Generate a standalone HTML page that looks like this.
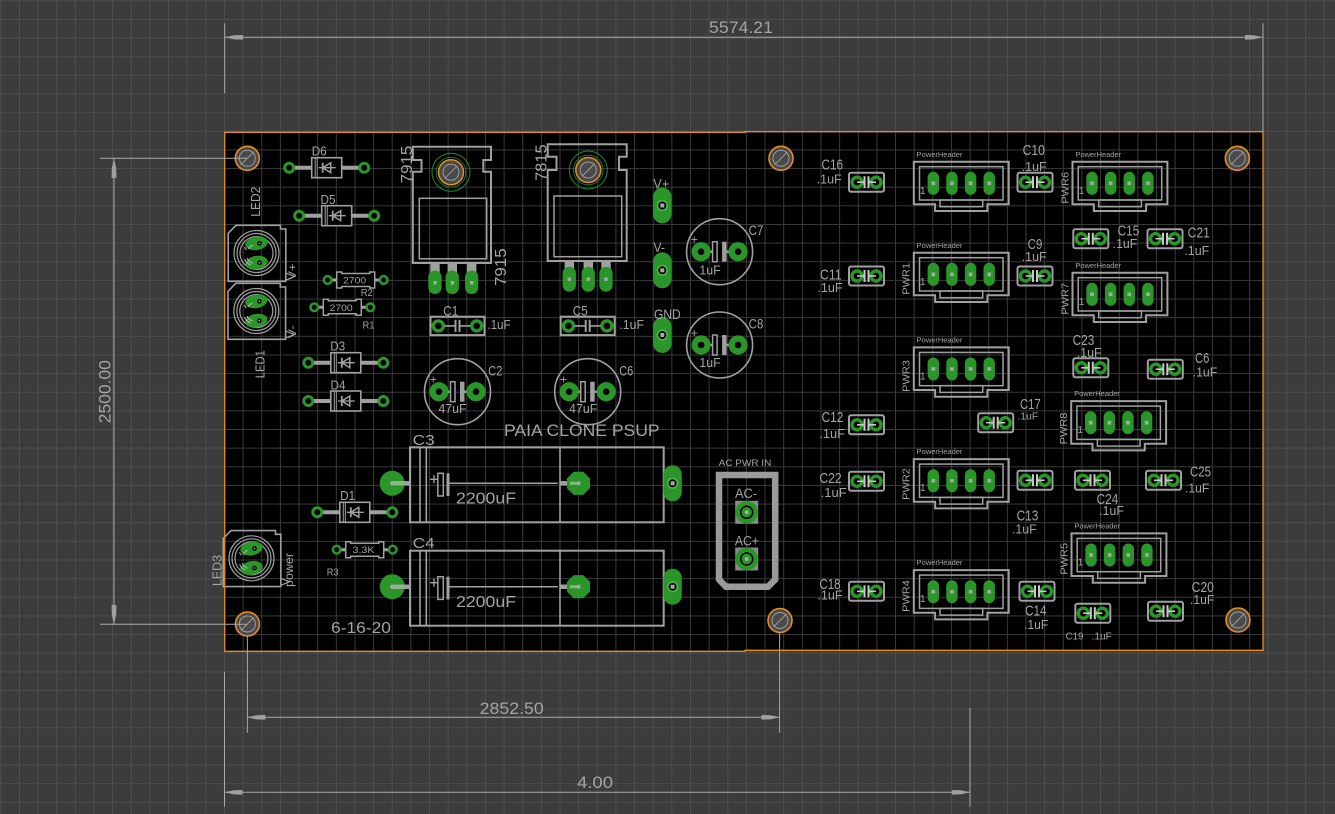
<!DOCTYPE html>
<html><head><meta charset="utf-8">
<style>
html,body{margin:0;padding:0;background:#3c3c3c;overflow:hidden}
svg{display:block}
text{font-family:"Liberation Sans",sans-serif;fill:#a4a4a4}
</style></head>
<body>
<svg width="1335" height="814" viewBox="0 0 1335 814" xmlns="http://www.w3.org/2000/svg">
<defs>
<pattern id="g1" x="0.3" y="0.3" width="18.64" height="18.64" patternUnits="userSpaceOnUse"><path d="M0,0.5H18.64M0.5,0V18.64" stroke="#4d4d4d" stroke-width="1" fill="none"/></pattern>
<pattern id="g2" x="0.3" y="0.3" width="18.64" height="18.64" patternUnits="userSpaceOnUse"><path d="M0,0.5H18.64M0.5,0V18.64" stroke="#3a3a3a" stroke-width="1" fill="none"/></pattern>
<g id="mh"><circle r="12" fill="#4a4a4a" stroke="#e58e1e" stroke-width="1.6"/><circle r="8" fill="none" stroke="#9a9a9a" stroke-width="1"/><line x1="-6.5" y1="6.5" x2="6.5" y2="-6.5" stroke="#9a9a9a" stroke-width="1"/></g>
<g id="rh"><circle r="19" fill="none" stroke="#1e8a3a" stroke-width="1"/><circle r="14.8" fill="none" stroke="#1e8a3a" stroke-width="0.8"/><circle r="12.5" fill="#4a4a4a" stroke="#e58e1e" stroke-width="1.5"/><circle r="8" fill="none" stroke="#9a9a9a" stroke-width="1"/><line x1="-6" y1="6" x2="6" y2="-6" stroke="#9a9a9a" stroke-width="1"/></g>
<g id="dio">
<path d="M-33,0H-15M15,0H33" stroke="#a0a0a0" stroke-width="4"/>
<circle cx="-37.5" r="4.5" fill="#000" stroke="#2a962a" stroke-width="3"/>
<circle cx="37.5" r="4.5" fill="#000" stroke="#2a962a" stroke-width="3"/>
<rect x="-15" y="-10" width="30" height="20" fill="#000" stroke="#a0a0a0" stroke-width="1.6"/>
<path d="M-11.5,-10V10M-9.5,-10V10" stroke="#a0a0a0" stroke-width="1"/>
<path d="M-8,0H9" stroke="#a0a0a0" stroke-width="1.3"/>
<path d="M-4,0L4,-5V5Z" fill="none" stroke="#a0a0a0" stroke-width="1.5"/>
<path d="M-4,-5V5" stroke="#a0a0a0" stroke-width="1.8"/>
</g>
<g id="res">
<path d="M-24,0H-19M19,0H24" stroke="#a0a0a0" stroke-width="3"/>
<circle cx="-28" r="3.8" fill="#000" stroke="#2a962a" stroke-width="2.6"/>
<circle cx="28" r="3.8" fill="#000" stroke="#2a962a" stroke-width="2.6"/>
<path d="M-19,-8H-14V-6.5H14V-8H19V8H14V6.5H-14V8H-19Z" fill="#000" stroke="#a0a0a0" stroke-width="1.5"/>
</g>
<g id="sc">
<rect x="-17.5" y="-9.5" width="35" height="19" rx="2" fill="none" stroke="#a0a0a0" stroke-width="2"/>
<circle cx="-9.5" r="5" fill="#000" stroke="#2a962a" stroke-width="3.4"/>
<circle cx="9.5" r="5" fill="#000" stroke="#2a962a" stroke-width="3.4"/>
<path d="M-9.5,0H-2.5M2.5,0H9.5" stroke="#c8c8c8" stroke-width="1.6"/>
<path d="M-2,-6V6M2,-6V6" stroke="#c8c8c8" stroke-width="2"/>
</g>
<g id="c1">
<rect x="-27" y="-9.2" width="54" height="18.4" fill="none" stroke="#a0a0a0" stroke-width="2"/>
<circle cx="-19.2" r="5" fill="#000" stroke="#2a962a" stroke-width="3.4"/>
<circle cx="19.2" r="5" fill="#000" stroke="#2a962a" stroke-width="3.4"/>
<path d="M-13,0H-2.5M2.5,0H13" stroke="#a0a0a0" stroke-width="1.6"/>
<path d="M-2,-6V6M2,-6V6" stroke="#a0a0a0" stroke-width="2"/>
</g>
<g id="ec">
<circle r="33" fill="none" stroke="#a0a0a0" stroke-width="1.6"/>
<path d="M-18.5,0H-7M7,0H18.5" stroke="#a0a0a0" stroke-width="2.5"/>
<circle cx="-18.5" r="9.6" fill="#2a962a"/><circle cx="-18.5" r="3.3" fill="#000"/>
<circle cx="18.5" r="9.6" fill="#2a962a"/><circle cx="18.5" r="3.3" fill="#000"/>
<rect x="-7" y="-10" width="4.5" height="20" fill="#000" stroke="#a0a0a0" stroke-width="1.5"/>
<rect x="2.5" y="-10" width="4.5" height="20" fill="#a0a0a0"/>
</g>
<g id="ob"><rect x="-9.2" y="-18" width="18.4" height="36" rx="9.2" fill="#2a962a"/><circle r="5.5" fill="#52b552"/><circle r="4" fill="#000"/><rect x="-2" y="-2" width="4" height="4" fill="#a8a8a8"/></g>
<g id="pin"><rect x="-5.7" y="-11.5" width="11.4" height="23" rx="5.7" fill="#2a962a"/><rect x="-1.8" y="-1.8" width="3.6" height="3.6" fill="#a8a8a8"/></g>
<g id="hd">
<path d="M-19.5,-21.6H75.4V21H54.1V27.7H1.8V21H-19.5Z" fill="none" stroke="#a0a0a0" stroke-width="2"/>
<rect x="-13.8" y="-16.6" width="83.5" height="33.3" fill="none" stroke="#a0a0a0" stroke-width="1.5"/>
<rect x="6.7" y="16.7" width="42.7" height="6.7" fill="none" stroke="#a0a0a0" stroke-width="1.5"/>
<use href="#pin" x="0"/><use href="#pin" x="18.64"/><use href="#pin" x="37.28"/><use href="#pin" x="55.92"/>
</g>
<g id="led">
<path d="M-28.3,-19.7L-20.5,-27.7H24V-24H29.3V28.3H-28.3Z" fill="none" stroke="#a0a0a0" stroke-width="1.6"/>
<path d="M29.3,20L38,23.5L29.3,27" fill="none" stroke="#a0a0a0" stroke-width="1.2"/>
<circle r="22.5" fill="none" stroke="#a0a0a0" stroke-width="1.2"/>
<circle r="19.5" fill="none" stroke="#a0a0a0" stroke-width="1.2"/>
<circle r="16.5" fill="none" stroke="#a0a0a0" stroke-width="1.2"/>
<ellipse cx="0" cy="-9.7" rx="11.3" ry="6.8" fill="#2a962a" transform="rotate(-10 0 -9.7)"/>
<ellipse cx="0" cy="9.7" rx="11.3" ry="6.8" fill="#2a962a" transform="rotate(-10 0 9.7)"/>
<path d="M-12,6A13,13 0 0 0 -6,12M-9.5,5A10,10 0 0 0 -4,10M-10,-3A13,13 0 0 1 -12,-6M-4,-8A8,8 0 0 0 -8,-4" fill="none" stroke="#b8b8b8" stroke-width="1"/>
<circle cx="3" cy="-9.7" r="2.3" fill="#000"/><circle cx="3" cy="9.7" r="2.3" fill="#000"/>
<circle cx="3" cy="-9.7" r="0.9" fill="#aaa"/><circle cx="3" cy="9.7" r="0.9" fill="#aaa"/>
</g>
<g id="bc">
<rect x="410" y="447.3" width="253.7" height="75" fill="none" stroke="#a0a0a0" stroke-width="2"/>
<path d="M420,446.5V523M426.3,446.5V523M560,447.3V522.3" stroke="#a0a0a0" stroke-width="1.6"/>
<circle cx="392.2" cy="483.3" r="12.5" fill="#2a962a"/>
<path d="M392.2,483.3H410M560,483.3H578.5" stroke="#a0a0a0" stroke-width="4.5"/>
<polygon points="590.05,478.5 583.3,471.75 573.7,471.75 566.95,478.5 566.95,488.1 573.7,494.85 583.3,494.85 590.05,488.1" fill="#2a962a"/>
<path d="M392.2,483.3H404M570,483.3H578.5" stroke="#7fc07f" stroke-width="3"/>
<circle cx="392.2" cy="483.3" r="2" fill="#aaa"/><circle cx="578.5" cy="483.3" r="2" fill="#aaa"/>
<use href="#ob" x="672.6" y="483.3"/>
<path d="M430,479.3h8M434,475.3v8" stroke="#a0a0a0" stroke-width="1.4"/>
<rect x="437.8" y="473.3" width="5.5" height="22.7" fill="none" stroke="#a0a0a0" stroke-width="1.5"/>
<rect x="446.5" y="473.3" width="3" height="22.7" fill="#a0a0a0"/>
<path d="M449.5,483.3H557.8" stroke="#a0a0a0" stroke-width="1.5"/>
</g>
</defs>

<rect x="0" y="0" width="1335" height="814" fill="#3c3c3c"/>
<rect x="0" y="0" width="1335" height="814" fill="url(#g1)"/>
<path d="M224.7,132.3H745V131.7H1263V650.3H745V651.3H224.7Z" fill="#000"/>
<path d="M224.7,132.3H745V131.7H1263V650.3H745V651.3H224.7Z" fill="url(#g2)"/>

<!-- mounting holes -->
<use href="#mh" x="247.3" y="158.3"/>
<use href="#mh" x="781" y="158.3"/>
<use href="#mh" x="1237.3" y="158.3"/>
<use href="#mh" x="247.4" y="624"/>
<use href="#mh" x="780" y="620.5"/>
<use href="#mh" x="1238" y="620"/>

<!-- diodes -->
<use href="#dio" x="326.7" y="167.7"/>
<use href="#dio" x="336.7" y="215.7"/>
<use href="#dio" x="345.8" y="362.7"/>
<use href="#dio" x="345.8" y="401"/>
<use href="#dio" x="354.8" y="512.3"/>
<text x="319.2" y="155.7" font-size="13" text-anchor="middle" textLength="15" lengthAdjust="spacingAndGlyphs">D6</text>
<text x="328" y="204" font-size="13" text-anchor="middle" textLength="15" lengthAdjust="spacingAndGlyphs">D5</text>
<text x="337.7" y="350.4" font-size="13" text-anchor="middle" textLength="15" lengthAdjust="spacingAndGlyphs">D3</text>
<text x="338" y="389.7" font-size="13" text-anchor="middle" textLength="15" lengthAdjust="spacingAndGlyphs">D4</text>
<text x="347.6" y="500" font-size="13" text-anchor="middle" textLength="15" lengthAdjust="spacingAndGlyphs">D1</text>

<!-- resistors -->
<use href="#res" x="355.7" y="280"/>
<use href="#res" x="342.3" y="307.3"/>
<use href="#res" x="364.7" y="549.7"/>
<text x="354.7" y="283.3" font-size="9" text-anchor="middle" textLength="23" lengthAdjust="spacingAndGlyphs">2700</text>
<text x="341.2" y="310.8" font-size="9" text-anchor="middle" textLength="23" lengthAdjust="spacingAndGlyphs">2700</text>
<text x="363.5" y="553" font-size="9" text-anchor="middle" textLength="22" lengthAdjust="spacingAndGlyphs">3.3K</text>
<text x="366.7" y="296" font-size="10" text-anchor="middle" textLength="12" lengthAdjust="spacingAndGlyphs">R2</text>
<text x="368.5" y="328.7" font-size="10" text-anchor="middle" textLength="12" lengthAdjust="spacingAndGlyphs">R1</text>
<text x="332.6" y="575.7" font-size="10" text-anchor="middle" textLength="11.8" lengthAdjust="spacingAndGlyphs">R3</text>

<!-- LEDs -->
<use href="#led" x="256.5" y="253"/>
<use href="#led" x="256.3" y="311"/>
<use href="#led" x="251.5" y="558.3"/>
<text transform="translate(255,201.7) rotate(-90)" x="0" y="4.75" font-size="13" text-anchor="middle" textLength="30" lengthAdjust="spacingAndGlyphs">LED2</text>
<text transform="translate(259.7,364.2) rotate(-90)" x="0" y="4.75" font-size="13" text-anchor="middle" textLength="28" lengthAdjust="spacingAndGlyphs">LED1</text>
<text transform="translate(216.7,570.5) rotate(-90)" x="0" y="4.75" font-size="13" text-anchor="middle" textLength="31" lengthAdjust="spacingAndGlyphs">LED3</text>
<text transform="translate(291.8,271.7) rotate(-90)" x="0" y="4" font-size="11" text-anchor="middle" textLength="16.7" lengthAdjust="spacingAndGlyphs">V+</text>
<text transform="translate(291.8,331.7) rotate(-90)" x="0" y="4" font-size="11" text-anchor="middle" textLength="13" lengthAdjust="spacingAndGlyphs">V-</text>
<text transform="translate(288.5,570) rotate(-90)" x="0" y="4.4" font-size="12" text-anchor="middle" textLength="34" lengthAdjust="spacingAndGlyphs">power</text>

<!-- regulators -->
<g fill="none" stroke="#a0a0a0">
<path d="M412.8,146.7H491V160H483.3V171.7H491V263H412.8V171.7H421.5V160H412.8Z" stroke-width="2"/>
<rect x="419.3" y="198.3" width="67.4" height="60.5" stroke-width="1.5"/>
<path d="M547.7,144.3H626.7V156.7H619V170H626.7V261H547.7V170H556.5V156.7H547.7Z" stroke-width="2"/>
<rect x="554" y="196" width="67.7" height="60.7" stroke-width="1.5"/>
</g>
<g fill="#a0a0a0">
<rect x="430.3" y="264" width="9.4" height="18"/><rect x="447.6" y="264" width="9.4" height="18"/><rect x="467" y="264" width="9.4" height="18"/>
<rect x="564.6" y="262" width="9.4" height="17"/><rect x="583.6" y="262" width="9.4" height="17"/><rect x="601.3" y="262" width="9.4" height="17"/>
</g>
<g fill="#2a962a">
<rect x="428.3" y="270.5" width="13.3" height="23.5" rx="6.6"/><rect x="445.6" y="270.5" width="13.3" height="23.5" rx="6.6"/><rect x="465" y="270.5" width="13.3" height="23.5" rx="6.6"/>
<rect x="562.6" y="266.7" width="13.3" height="25" rx="6.6"/><rect x="581.6" y="266.7" width="13.3" height="25" rx="6.6"/><rect x="599.3" y="266.7" width="13.3" height="25" rx="6.6"/>
</g>
<g fill="#a8a8a8">
<rect x="433.3" y="281" width="3.4" height="3.4"/><rect x="450.6" y="281" width="3.4" height="3.4"/><rect x="470" y="281" width="3.4" height="3.4"/>
<rect x="567.6" y="277.5" width="3.4" height="3.4"/><rect x="586.6" y="277.5" width="3.4" height="3.4"/><rect x="604.3" y="277.5" width="3.4" height="3.4"/>
</g>
<use href="#rh" x="451" y="172.2"/>
<use href="#rh" x="588.3" y="170"/>
<text transform="translate(406.3,164.5) rotate(-90)" x="0" y="5.85" font-size="16" text-anchor="middle" textLength="37.7" lengthAdjust="spacingAndGlyphs">7915</text>
<text transform="translate(500,267.2) rotate(-90)" x="0" y="5.85" font-size="16" text-anchor="middle" textLength="37.7" lengthAdjust="spacingAndGlyphs">7915</text>
<text transform="translate(540.8,162.7) rotate(-90)" x="0" y="5.85" font-size="16" text-anchor="middle" textLength="36.7" lengthAdjust="spacingAndGlyphs">7815</text>

<!-- C1 C5 -->
<use href="#c1" x="457.5" y="325.9"/>
<use href="#c1" x="587.7" y="325.9"/>
<text x="450.8" y="315.4" font-size="14" text-anchor="middle" textLength="15" lengthAdjust="spacingAndGlyphs">C1</text>
<text x="499" y="328.8" font-size="13" text-anchor="middle" textLength="23.3" lengthAdjust="spacingAndGlyphs">.1uF</text>
<text x="580.3" y="315.4" font-size="14" text-anchor="middle" textLength="15" lengthAdjust="spacingAndGlyphs">C5</text>
<text x="631.7" y="328.8" font-size="13" text-anchor="middle" textLength="24.7" lengthAdjust="spacingAndGlyphs">.1uF</text>

<!-- V+ V- GND -->
<use href="#ob" x="662.3" y="205.5"/>
<use href="#ob" x="662.3" y="270.3"/>
<use href="#ob" x="662.3" y="335"/>
<text x="661.3" y="188.4" font-size="14" text-anchor="middle" textLength="16" lengthAdjust="spacingAndGlyphs">V+</text>
<text x="659.2" y="252.1" font-size="14" text-anchor="middle" textLength="11.7" lengthAdjust="spacingAndGlyphs">V-</text>
<text x="667.3" y="319.1" font-size="14" text-anchor="middle" textLength="26.7" lengthAdjust="spacingAndGlyphs">GND</text>

<!-- electrolytics -->
<use href="#ec" x="719.6" y="251.7"/>
<use href="#ec" x="719.6" y="345"/>
<use href="#ec" x="457.5" y="391.7"/>
<use href="#ec" x="587.7" y="391.7"/>
<text x="694.3" y="243.5" font-size="12" text-anchor="middle">+</text>
<text x="694.3" y="336.8" font-size="12" text-anchor="middle">+</text>
<text x="433.3" y="383.5" font-size="12" text-anchor="middle">+</text>
<text x="563.5" y="383.5" font-size="12" text-anchor="middle">+</text>
<text x="756" y="234.8" font-size="14" text-anchor="middle" textLength="14.7" lengthAdjust="spacingAndGlyphs">C7</text>
<text x="710" y="274.4" font-size="13" text-anchor="middle" textLength="21.3" lengthAdjust="spacingAndGlyphs">1uF</text>
<text x="756" y="328.4" font-size="14" text-anchor="middle" textLength="14.7" lengthAdjust="spacingAndGlyphs">C8</text>
<text x="710" y="366.9" font-size="13" text-anchor="middle" textLength="21.3" lengthAdjust="spacingAndGlyphs">1uF</text>
<text x="495.3" y="375.4" font-size="14" text-anchor="middle" textLength="14" lengthAdjust="spacingAndGlyphs">C2</text>
<text x="452.5" y="413" font-size="13" text-anchor="middle" textLength="28.3" lengthAdjust="spacingAndGlyphs">47uF</text>
<text x="626.2" y="375.4" font-size="14" text-anchor="middle" textLength="14" lengthAdjust="spacingAndGlyphs">C6</text>
<text x="583.2" y="413" font-size="13" text-anchor="middle" textLength="28.3" lengthAdjust="spacingAndGlyphs">47uF</text>

<text x="581.8" y="436" font-size="16.5" text-anchor="middle" textLength="155.6" lengthAdjust="spacingAndGlyphs">PAIA CLONE PSUP</text>

<!-- big caps -->
<use href="#bc"/>
<use href="#bc" y="103.4"/>
<text x="423.7" y="444.8" font-size="15" text-anchor="middle" textLength="22" lengthAdjust="spacingAndGlyphs">C3</text>
<text x="486" y="503.5" font-size="16" text-anchor="middle" textLength="60" lengthAdjust="spacingAndGlyphs">2200uF</text>
<text x="423.7" y="548.2" font-size="15" text-anchor="middle" textLength="22" lengthAdjust="spacingAndGlyphs">C4</text>
<text x="486" y="607" font-size="16" text-anchor="middle" textLength="60" lengthAdjust="spacingAndGlyphs">2200uF</text>
<text x="361" y="633.2" font-size="16" text-anchor="middle" textLength="60" lengthAdjust="spacingAndGlyphs">6-16-20</text>

<!-- AC PWR IN -->
<path d="M719,475H775.2V579.5L768,586.8H726L719,579.5Z" fill="none" stroke="#9a9a9a" stroke-width="6.5"/>
<rect x="735.2" y="500.8" width="23" height="23" fill="#8a8a8a"/>
<circle cx="746.7" cy="512.3" r="11.3" fill="#2a962a"/><circle cx="746.7" cy="512.3" r="6" fill="none" stroke="#000" stroke-width="1.5"/><circle cx="746.7" cy="512.3" r="2" fill="#aaa"/>
<rect x="735.2" y="547.5" width="23" height="23" fill="#8a8a8a"/>
<circle cx="746.7" cy="559" r="11.3" fill="#2a962a"/><circle cx="746.7" cy="559" r="6" fill="none" stroke="#000" stroke-width="1.5"/><circle cx="746.7" cy="559" r="2" fill="#aaa"/>
<text x="745" y="466" font-size="9" text-anchor="middle" textLength="52.6" lengthAdjust="spacingAndGlyphs">AC PWR IN</text>
<text x="746" y="498.2" font-size="13.5" text-anchor="middle" textLength="22" lengthAdjust="spacingAndGlyphs">AC-</text>
<text x="746.9" y="545.4" font-size="13.5" text-anchor="middle" textLength="24" lengthAdjust="spacingAndGlyphs">AC+</text>

<!-- headers -->
<use href="#hd" x="933.3" y="183.3"/>
<use href="#hd" x="933.3" y="274.3"/>
<use href="#hd" x="933.3" y="369"/>
<use href="#hd" x="1092" y="183.3"/>
<use href="#hd" x="1092" y="294.3"/>
<use href="#hd" x="1090.7" y="422.7"/>
<use href="#hd" x="933.3" y="480.7"/>
<use href="#hd" x="1091" y="555"/>
<use href="#hd" x="933.3" y="591.7"/>
<g font-size="7">
<text x="916.7" y="156.8" textLength="45.7" lengthAdjust="spacingAndGlyphs">PowerHeader</text>
<text x="916.7" y="247.8" textLength="45.7" lengthAdjust="spacingAndGlyphs">PowerHeader</text>
<text x="916.7" y="342.5" textLength="45.7" lengthAdjust="spacingAndGlyphs">PowerHeader</text>
<text x="1075.4" y="156.8" textLength="45.7" lengthAdjust="spacingAndGlyphs">PowerHeader</text>
<text x="1075.4" y="267.8" textLength="45.7" lengthAdjust="spacingAndGlyphs">PowerHeader</text>
<text x="1074.1" y="396.2" textLength="45.7" lengthAdjust="spacingAndGlyphs">PowerHeader</text>
<text x="916.7" y="454.2" textLength="45.7" lengthAdjust="spacingAndGlyphs">PowerHeader</text>
<text x="1074.4" y="528.5" textLength="45.7" lengthAdjust="spacingAndGlyphs">PowerHeader</text>
<text x="916.7" y="565.2" textLength="45.7" lengthAdjust="spacingAndGlyphs">PowerHeader</text>
</g>
<g font-size="10" text-anchor="middle">
<text x="922.8" y="193.8">1</text>
<text x="922.8" y="284.8">1</text>
<text x="922.8" y="379.5">1</text>
<text x="1081.5" y="193.8">1</text>
<text x="1081.5" y="304.8">1</text>
<text x="1080.2" y="433.2">1</text>
<text x="922.8" y="491.2">1</text>
<text x="1080.5" y="565.5">1</text>
<text x="922.8" y="602.2">1</text>
</g>
<g font-size="10.5" text-anchor="middle">
<text transform="translate(905.8,278.8) rotate(-90)" y="3.8" textLength="31.7" lengthAdjust="spacingAndGlyphs">PWR1</text>
<text transform="translate(905.8,376) rotate(-90)" y="3.8" textLength="31.7" lengthAdjust="spacingAndGlyphs">PWR3</text>
<text transform="translate(1064.5,187.8) rotate(-90)" y="3.8" textLength="31.7" lengthAdjust="spacingAndGlyphs">PWR6</text>
<text transform="translate(1064.5,298.8) rotate(-90)" y="3.8" textLength="31.7" lengthAdjust="spacingAndGlyphs">PWR7</text>
<text transform="translate(1063.2,428.5) rotate(-90)" y="3.8" textLength="31.7" lengthAdjust="spacingAndGlyphs">PWR8</text>
<text transform="translate(905.8,484) rotate(-90)" y="3.8" textLength="31.7" lengthAdjust="spacingAndGlyphs">PWR2</text>
<text transform="translate(1063.5,558.8) rotate(-90)" y="3.8" textLength="31.7" lengthAdjust="spacingAndGlyphs">PWR5</text>
<text transform="translate(905.8,596) rotate(-90)" y="3.8" textLength="31.7" lengthAdjust="spacingAndGlyphs">PWR4</text>
</g>

<!-- small caps -->
<use href="#sc" x="866.5" y="182.2"/>
<use href="#sc" x="1035" y="182.2"/>
<use href="#sc" x="866.5" y="276"/>
<use href="#sc" x="1035" y="276"/>
<use href="#sc" x="1090.8" y="238.7"/>
<use href="#sc" x="1165" y="238.7"/>
<use href="#sc" x="1090.8" y="367.8"/>
<use href="#sc" x="1165.3" y="369.2"/>
<use href="#sc" x="866.5" y="424.8"/>
<use href="#sc" x="995.7" y="422.7"/>
<use href="#sc" x="866.5" y="481.3"/>
<use href="#sc" x="1035" y="480.3"/>
<use href="#sc" x="1092.5" y="480.3"/>
<use href="#sc" x="1163.5" y="480.3"/>
<use href="#sc" x="866.5" y="591.3"/>
<use href="#sc" x="1037" y="591.3"/>
<use href="#sc" x="1092.8" y="613.2"/>
<use href="#sc" x="1165.5" y="611.2"/>

<g font-size="15" text-anchor="middle">
<text x="832.3" y="169.3" textLength="21.7" lengthAdjust="spacingAndGlyphs">C16</text>
<text x="1033.8" y="154.8" textLength="22.3" lengthAdjust="spacingAndGlyphs">C10</text>
<text x="830.8" y="279.5" textLength="21.7" lengthAdjust="spacingAndGlyphs">C11</text>
<text x="1035" y="248.8" textLength="14.7" lengthAdjust="spacingAndGlyphs">C9</text>
<text x="1128.5" y="235.5" textLength="21.7" lengthAdjust="spacingAndGlyphs">C15</text>
<text x="1198.8" y="237.5" textLength="22.3" lengthAdjust="spacingAndGlyphs">C21</text>
<text x="1083.5" y="344.8" textLength="21.7" lengthAdjust="spacingAndGlyphs">C23</text>
<text x="1202.2" y="363.2" textLength="14.3" lengthAdjust="spacingAndGlyphs">C6</text>
<text x="832.5" y="422.2" textLength="21.7" lengthAdjust="spacingAndGlyphs">C12</text>
<text x="1030.3" y="408.8" textLength="20.7" lengthAdjust="spacingAndGlyphs">C17</text>
<text x="830.5" y="482.8" textLength="22.3" lengthAdjust="spacingAndGlyphs">C22</text>
<text x="1027.5" y="520.5" textLength="21.7" lengthAdjust="spacingAndGlyphs">C13</text>
<text x="1107.5" y="503.8" textLength="21.7" lengthAdjust="spacingAndGlyphs">C24</text>
<text x="1200.5" y="476.5" textLength="21" lengthAdjust="spacingAndGlyphs">C25</text>
<text x="830" y="588.8" textLength="21.3" lengthAdjust="spacingAndGlyphs">C18</text>
<text x="1035.8" y="615.5" textLength="21.7" lengthAdjust="spacingAndGlyphs">C14</text>
<text x="1202.8" y="592.2" textLength="22.3" lengthAdjust="spacingAndGlyphs">C20</text>
</g>
<g font-size="12.5" text-anchor="middle">
<text x="829.2" y="183.4" textLength="25" lengthAdjust="spacingAndGlyphs">.1uF</text>
<text x="1034.2" y="171" textLength="25" lengthAdjust="spacingAndGlyphs">.1uF</text>
<text x="830" y="292" textLength="25.3" lengthAdjust="spacingAndGlyphs">.1uF</text>
<text x="1034.2" y="260.8" textLength="25" lengthAdjust="spacingAndGlyphs">.1uF</text>
<text x="1125" y="248.2" textLength="24.7" lengthAdjust="spacingAndGlyphs">.1uF</text>
<text x="1196.8" y="254.9" textLength="25" lengthAdjust="spacingAndGlyphs">.1uF</text>
<text x="1089.2" y="357" textLength="25" lengthAdjust="spacingAndGlyphs">.1uF</text>
<text x="1205" y="376.5" textLength="24.7" lengthAdjust="spacingAndGlyphs">.1uF</text>
<text x="832.2" y="438.2" textLength="25.7" lengthAdjust="spacingAndGlyphs">.1uF</text>
<text x="833.7" y="496.8" textLength="26" lengthAdjust="spacingAndGlyphs">.1uF</text>
<text x="1024.3" y="533.5" textLength="24.7" lengthAdjust="spacingAndGlyphs">.1uF</text>
<text x="1111.5" y="514.8" textLength="25" lengthAdjust="spacingAndGlyphs">.1uF</text>
<text x="1197.2" y="492.5" textLength="24.3" lengthAdjust="spacingAndGlyphs">.1uF</text>
<text x="830" y="599.5" textLength="25.3" lengthAdjust="spacingAndGlyphs">.1uF</text>
<text x="1036.2" y="628.8" textLength="24.3" lengthAdjust="spacingAndGlyphs">.1uF</text>
<text x="1202.2" y="604" textLength="24.3" lengthAdjust="spacingAndGlyphs">.1uF</text>
</g>
<g font-size="10" text-anchor="middle">
<text x="1027.8" y="419.3" textLength="21" lengthAdjust="spacingAndGlyphs">.1uF</text>
<text x="1074.5" y="639.5" textLength="17.7" lengthAdjust="spacingAndGlyphs">C19</text>
<text x="1101.7" y="639.5" textLength="20" lengthAdjust="spacingAndGlyphs">.1uF</text>
</g>

<!-- board outline -->
<path d="M224.7,132.3H745V131.7H1263V650.3H745V651.3H224.7Z" fill="none" stroke="#e58e1e" stroke-width="1.3"/>

<!-- dimensions -->
<g stroke="#a8a8a8" stroke-width="1" fill="none">
<path d="M224.7,23.3V93.3M1263,23.3V131.7M224.7,37.3H1263"/>
<path d="M100,158.3H247M100,624.3H247M114,158.3V624.3"/>
<path d="M247.4,636V732.7M779.6,632V732.7M247.4,717.3H779.6"/>
<path d="M224.5,671.7V806.7M970,708V806.7M224.5,792.3H970"/>
</g>
<g fill="#a0a0a0">
<polygon points="225,37.3 234,35.2 243,35 243,39.6 234,39.4"/>
<polygon points="1263,37.3 1254,35.2 1245,35 1245,39.6 1254,39.4"/>
<polygon points="114,158.3 111.8,168 111.6,178 116.4,178 116.2,168"/>
<polygon points="114,624.3 111.8,614.6 111.6,605 116.4,605 116.2,614.6"/>
<polygon points="247.4,717.3 256.4,715.2 265.4,715 265.4,719.6 256.4,719.4"/>
<polygon points="779.6,717.3 770.6,715.2 761.6,715 761.6,719.6 770.6,719.4"/>
<polygon points="224.5,792.3 233.5,790.2 242.5,790 242.5,794.6 233.5,794.4"/>
<polygon points="970,792.3 961,790.2 952,790 952,794.6 961,794.4"/>
</g>
<g font-size="17" text-anchor="middle" style="fill:#a8a8a8">
<text x="741" y="33.2" textLength="64" lengthAdjust="spacingAndGlyphs">5574.21</text>
<text transform="translate(104.5,391.7) rotate(-90)" x="0" y="6.2" textLength="63" lengthAdjust="spacingAndGlyphs">2500.00</text>
<text x="511.7" y="713.9" textLength="64" lengthAdjust="spacingAndGlyphs">2852.50</text>
<text x="595" y="788.2" textLength="36" lengthAdjust="spacingAndGlyphs">4.00</text>
</g>
</svg>
</body></html>
